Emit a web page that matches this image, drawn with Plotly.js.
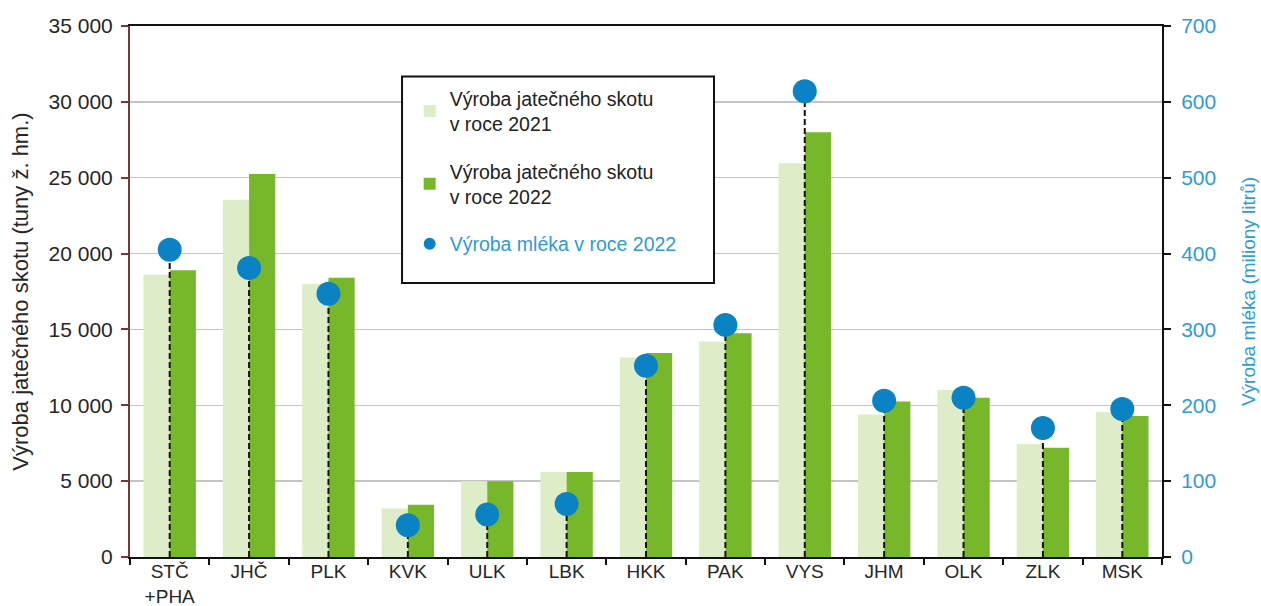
<!DOCTYPE html>
<html>
<head>
<meta charset="utf-8">
<script src="https://cdn.plot.ly/plotly-3.0.1.min.js"></script>
<style>html,body{margin:0;padding:0;background:#fff;}#chart{width:1261px;height:606px;}</style>
</head>
<body>
<div id="chart"></div>
<script>
const categories = ["STČ<br>+PHA","JHČ","PLK","KVK","ULK","LBK","HKK","PAK","VYS","JHM","OLK","ZLK","MSK"];
const beef2021 = [18600, 23550, 18000, 3200, 5000, 5600, 13150, 14200, 25950, 9400, 11000, 7450, 9550];
const beef2022 = [18900, 25250, 18400, 3450, 5000, 5600, 13450, 14750, 28000, 10250, 10500, 7200, 9300];
const milk2022 = [405, 381, 347, 42, 56, 70, 252, 306, 614, 206, 210, 170, 195];
const names = ["Výroba jatečného skotu<br>v roce 2021", "Výroba jatečného skotu<br>v roce 2022", "Výroba mléka v roce 2022"];

const FONT = "Liberation Sans, Arial, sans-serif";
const BLUE_TXT = "#2f9ad4";

const dashX = [], dashY = [];
categories.forEach((c, i) => { dashX.push(c, c, null); dashY.push(0, milk2022[i], null); });

const traces = [
  {type: "bar", x: categories, y: beef2021, name: names[0], legendgroup: "a", marker: {color: "#dcedc8"}, yaxis: "y"},
  {type: "bar", x: categories, y: beef2022, name: names[1], legendgroup: "b", marker: {color: "#77b82a"}, yaxis: "y"},
  {type: "scatter", mode: "lines", x: dashX, y: dashY, yaxis: "y2", showlegend: false, hoverinfo: "skip",
   line: {color: "#111", width: 2, dash: "6px,3px"}},
  {type: "scatter", mode: "markers", x: categories, y: milk2022, yaxis: "y2", legendgroup: "c",
   name: '<span style="color:' + BLUE_TXT + '">' + names[2] + '</span>',
   marker: {color: "#0a82c3", size: 24}}
];

const layout = {
  width: 1261, height: 606,
  margin: {l: 130, r: 99, t: 26, b: 49},
  paper_bgcolor: "#fff", plot_bgcolor: "#fff",
  separators: ", ",
  font: {family: FONT, size: 19, color: "#262626"},
  barmode: "group", bargap: 0.34, bargroupgap: 0,
  showlegend: true,
  legend: {x: 0.271, y: 0.9, xanchor: "left", yanchor: "top", bgcolor: "rgba(0,0,0,0)", borderwidth: 0,
           font: {family: FONT, size: 19.5, color: "#222"}, itemsizing: "constant", tracegroupgap: 19},
  xaxis: {type: "category", range: [-0.5, 12.5], showline: true, linecolor: "#111", linewidth: 2, mirror: true,
          ticks: "outside", tickson: "boundaries", ticklen: 6, tickwidth: 2, tickcolor: "#111",
          ticklabelstandoff: -4,
          tickfont: {family: FONT, size: 19, color: "#262626"}, showgrid: false, fixedrange: true},
  yaxis: {range: [0, 35000], dtick: 5000, tickformat: ",d", showline: true, linecolor: "#7a3535", linewidth: 2,
          ticks: "outside", ticklen: 7, tickwidth: 2, tickcolor: "#7a3535",
          ticklabelstandoff: 4,
          gridcolor: "#c4c4c4", gridwidth: 1.5, zeroline: false,
          tickfont: {family: FONT, size: 21, color: "#262626"},
          title: {text: "Výroba jatečného skotu (tuny ž. hm.)", font: {family: FONT, size: 22, color: "#262626"}, standoff: 14}},
  yaxis2: {range: [0, 700], dtick: 100, overlaying: "y", side: "right", showline: true, linecolor: "#111", linewidth: 2,
           ticks: "outside", ticklen: 7, tickwidth: 2, tickcolor: "#111", showgrid: false, zeroline: false,
           ticklabelstandoff: 6,
           tickfont: {family: FONT, size: 21, color: BLUE_TXT},
           title: {text: "Výroba mléka (miliony litrů)", font: {family: FONT, size: 19, color: BLUE_TXT}, standoff: 26}},
  shapes: [{type: "rect", xref: "paper", yref: "paper", x0: 0.2636, x1: 0.5659, y0: 0.516, y1: 0.905,
            line: {color: "#111", width: 2}, fillcolor: "#fff", layer: "above"}]
};

Plotly.newPlot("chart", traces, layout, {displayModeBar: false, staticPlot: true});
</script>
</body>
</html>
